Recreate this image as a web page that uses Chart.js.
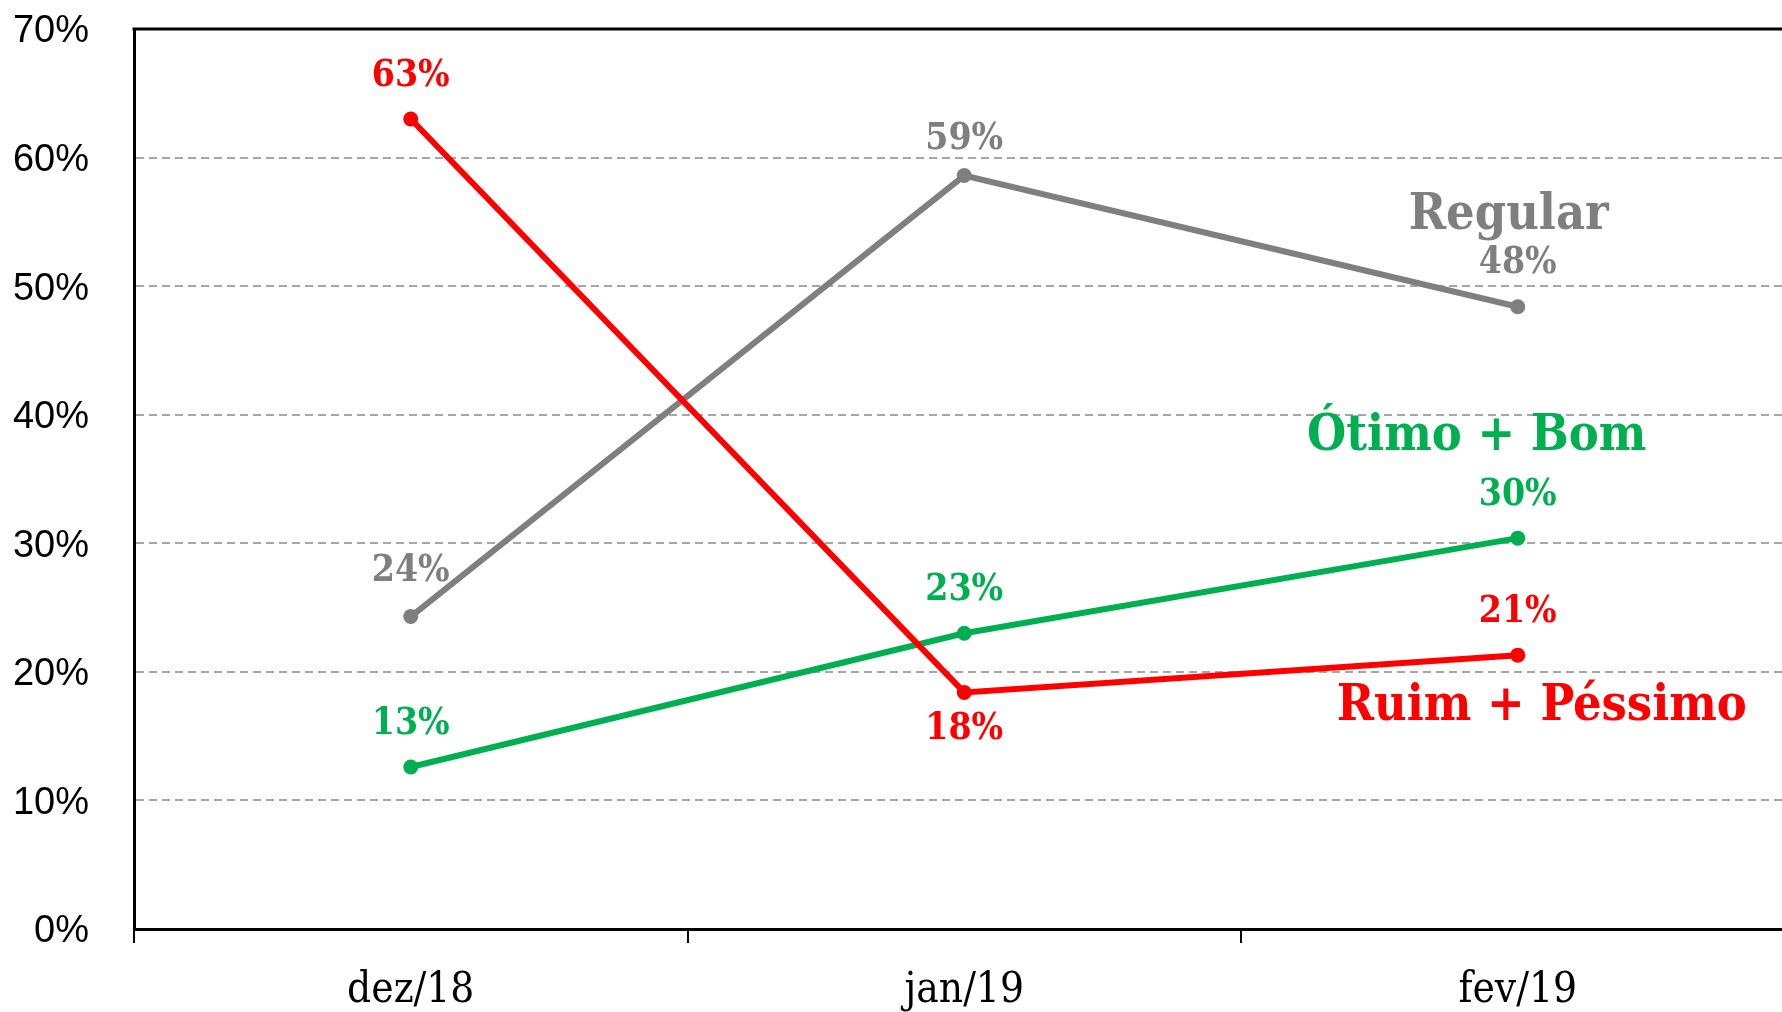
<!DOCTYPE html>
<html>
<head>
<meta charset="utf-8">
<script src="https://cdn.jsdelivr.net/npm/chart.js@4"></script>
<style>
  html, body { margin: 0; padding: 0; background: #fff; overflow: hidden; }
</style>
</head>
<body>
<canvas id="myChart" width="1802" height="1012"></canvas>
<script>
// values (percent)
let months = ['dez/18', 'jan/19', 'fev/19'];
let ruimPessimo = [63.0, 18.4, 21.3];
let otimoBom = [12.6, 23.0, 30.4];
let regular = [24.3, 58.6, 48.4];
let yTicks = [0, 10, 20, 30, 40, 50, 60, 70];

const slab = "'DejaVu Serif Condensed', 'DejaVu Serif', serif";

// value labels over each point + series name near the last point
const seriesLabels = {
  id: 'seriesLabels',
  afterDatasetsDraw(chart) {
    const ctx = chart.ctx;
    ctx.save();
    ctx.textAlign = 'center';
    ctx.textBaseline = 'middle';
    chart.data.datasets.forEach((ds, i) => {
      const meta = chart.getDatasetMeta(i);
      ctx.fillStyle = ds.borderColor;
      ctx.font = 'bold 37px ' + slab;
      meta.data.forEach((pt, j) => {
        ctx.fillText(Math.round(ds.data[j]) + '%', pt.x, pt.y + ds.labelDy[j]);
      });
      const last = meta.data[meta.data.length - 1];
      ctx.font = 'bold 50px ' + slab;
      ctx.fillText(ds.label, last.x + ds.nameDx, last.y + ds.nameDy);
    });
    // top frame line
    const a = chart.chartArea;
    ctx.strokeStyle = '#000';
    ctx.lineWidth = 3;
    ctx.beginPath();
    ctx.moveTo(a.left - 1.5, a.top);
    ctx.lineTo(a.right, a.top);
    ctx.stroke();
    ctx.restore();
  }
};

var ctx = document.getElementById('myChart').getContext('2d');
var myChart = new Chart(ctx, {
  type: 'line',
  data: {
    labels: months,
    datasets: [
      {
        label: 'Ruim + Péssimo',
        data: ruimPessimo,
        borderColor: '#FF0000',
        backgroundColor: '#FF0000',
        labelDy: [-43, 37, -43],
        nameDx: 24,
        nameDy: 52
      },
      {
        label: 'Ótimo + Bom',
        data: otimoBom,
        borderColor: '#00B050',
        backgroundColor: '#00B050',
        labelDy: [-43, -43, -43],
        nameDx: -41,
        nameDy: -101
      },
      {
        label: 'Regular',
        data: regular,
        borderColor: '#7F7F7F',
        backgroundColor: '#7F7F7F',
        labelDy: [-45, -36, -43],
        nameDx: -9,
        nameDy: -91
      }
    ]
  },
  options: {
    responsive: false,
    animation: false,
    layout: { padding: { top: 29, left: 0, right: 0, bottom: 0 } },
    elements: {
      line: { borderWidth: 6, tension: 0 },
      point: { radius: 7.5, borderWidth: 0, hoverRadius: 7.5 }
    },
    plugins: {
      legend: { display: false },
      tooltip: { enabled: false }
    },
    scales: {
      x: {
        offset: true,
        grid: {
          offset: true,
          drawOnChartArea: false,
          drawTicks: true,
          tickLength: 14,
          color: '#000',
          lineWidth: 2
        },
        border: { color: '#000', width: 3 },
        ticks: {
          color: '#000',
          padding: 23,
          font: { family: slab, size: 42 }
        },
        afterFit(scale) {
          scale.height = 83;
          scale.paddingLeft = 0;
          scale.paddingRight = 0;
        }
      },
      y: {
        min: 0,
        max: 70,
        afterBuildTicks(scale) { scale.ticks = yTicks.map(v => ({ value: v })); },
        grid: {
          drawTicks: false,
          color: '#A6A6A6',
          lineWidth: 2
        },
        border: { color: '#000', width: 3, dash: [8, 5] },
        ticks: {
          color: '#000',
          padding: 45,
          labelOffset: 3,
          font: { family: "'Liberation Sans', Arial, sans-serif", size: 38 },
          callback: v => v + '%'
        },
        afterFit(scale) {
          scale.width = 134;
          scale.paddingTop = 0;
          scale.paddingBottom = 0;
        }
      }
    }
  },
  plugins: [seriesLabels]
});
</script>
</body>
</html>
